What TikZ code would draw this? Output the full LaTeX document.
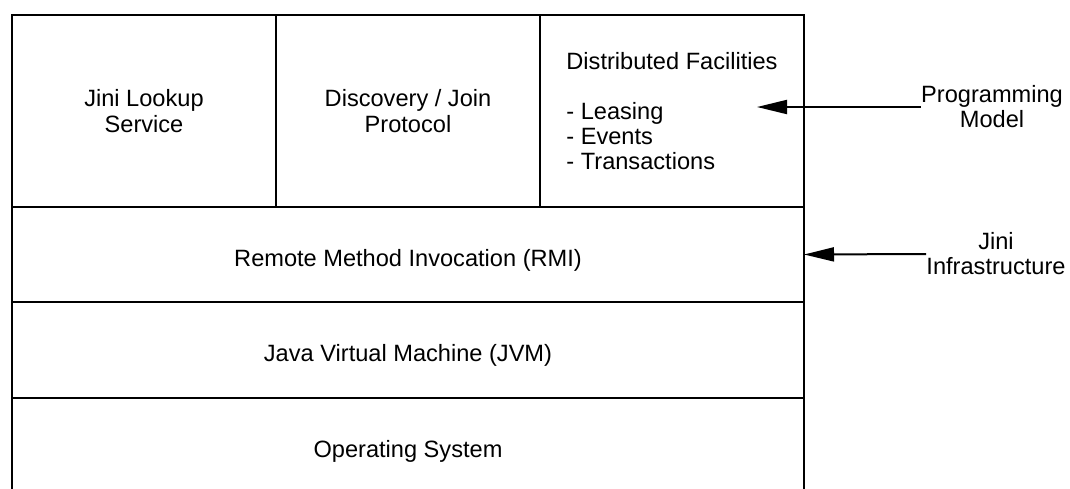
\documentclass[tikz,border=0pt]{standalone}
\usepackage{fontspec}
\setmainfont{Liberation Sans}
\usetikzlibrary{arrows.meta,positioning}

\tikzset{
  layer/.style={draw, line width=1.3pt, inner sep=0pt, outer sep=0pt, align=center,
    font=\fontsize{11.8}{13}\selectfont},
  band/.style={layer, minimum width=396pt, text height=11.5pt, text depth=0pt},
  side/.style={align=center, inner sep=0pt, font=\fontsize{11.8}{12.5}\selectfont},
  pointer/.style={line width=1pt, -{Triangle[length=15pt,width=7pt]}}
}

\begin{document}
\begin{tikzpicture}[x=0.5pt,y=-0.5pt]
        \useasboundingbox (0,0) rectangle (1070,488);

        % Riga alta
        \node[layer, minimum width=132pt, minimum height=96pt, anchor=north west] (lookup) at (12,15) {Jini Lookup\\Service};
        \node[layer, minimum width=132pt, minimum height=96pt, right=0pt of lookup] (discovery) {Discovery / Join\\Protocol};
        \node[layer, minimum width=132pt, minimum height=96pt, right=0pt of discovery] (facilities) {};
        \node[align=left, font=\fontsize{11.8}{12.5}\selectfont] (faclist) at (facilities.center)
            {Distributed Facilities\\[12.5pt]- Leasing\\- Events\\- Transactions};

        % Strati
        \node[band, minimum height=47.5pt, anchor=north west] (rmi) at (lookup.south west) {Remote Method Invocation (RMI)};
        \node[band, minimum height=48pt, below=0pt of rmi] (jvm) {Java Virtual Machine (JVM)};
        \node[band, minimum height=48pt, below=0pt of jvm] (os) {Operating System};

        % Annotazioni
        \node[side] (model) at (992,107) {Programming\\Model};
        \node[side] (infra) at (996,254) {Jini\\Infrastructure};
        \coordinate (modeltip) at (757,107);

        \draw[pointer] (model.west) -- (modeltip);
        \draw[pointer] (infra.west) -- (rmi.east);
    \end{tikzpicture}
\end{document}
